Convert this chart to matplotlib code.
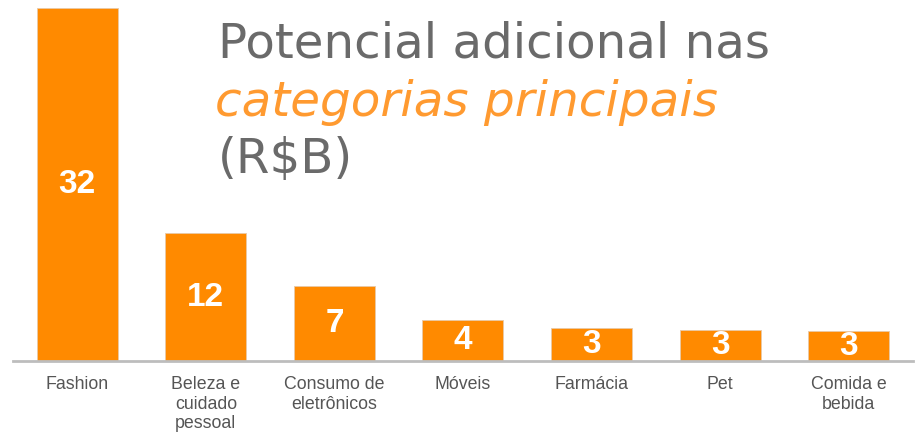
import matplotlib
matplotlib.use('Agg')
import matplotlib.pyplot as plt

categories = ['Fashion', 'Beleza e\ncuidado\npessoal', 'Consumo de\neletrônicos', 'Móveis',
              'Farmácia', 'Pet', 'Comida e\nbebida']
values = [32, 11.6, 6.8, 3.7, 3.0, 2.8, 2.7]
valueLabels = ['32', '12', '7', '4', '3', '3', '3']

barColor = '#FF8A00'
titleGray = '#6A6A6A'
titleOrange = '#FF9A30'

fig = plt.figure(figsize=(9.19, 4.33), dpi=100)
fig.set_facecolor('white')
ax = fig.add_axes([13 / 919, (433 - 361) / 433, 900 / 919, 353 / 433])

x = range(len(categories))
ax.bar(x, values, width=0.63, color=barColor, edgecolor='#E8C9A8', linewidth=0.6, zorder=2)

for i, v in enumerate(values):
    ax.text(i, v / 2, valueLabels[i], ha='center', va='center', color='white',
            fontsize=24, fontweight='bold', family='Liberation Sans', zorder=3)

ax.set_xlim(-0.5, len(categories) - 0.5)
ax.set_ylim(0, 32)
ax.set_xticks(list(x))
ax.set_xticklabels(categories, fontsize=12.8, color='#555555', family='Liberation Sans',
                   linespacing=1.2, va='top')
ax.tick_params(axis='x', length=0, pad=11)
ax.set_yticks([])
for side in ['top', 'left', 'right']:
    ax.spines[side].set_visible(False)
ax.spines['bottom'].set_color('#BDBDBD')
ax.spines['bottom'].set_linewidth(2)
ax.set_facecolor('none')

# title block, three lines
titleFont = 'DejaVu Sans'
fig.text(218 / 919, 1 - 58 / 433, 'Potencial adicional nas', fontsize=34.8, color=titleGray,
         family=titleFont, va='baseline', ha='left')
fig.text(215 / 919, 1 - 116 / 433, 'categorias principais', fontsize=34.8, color=titleOrange,
         family=titleFont, style='italic', va='baseline', ha='left')
fig.text(218 / 919, 1 - 173 / 433, '(R$B)', fontsize=34.8, color=titleGray,
         family=titleFont, va='baseline', ha='left')

fig.savefig('out.png', dpi=100)
